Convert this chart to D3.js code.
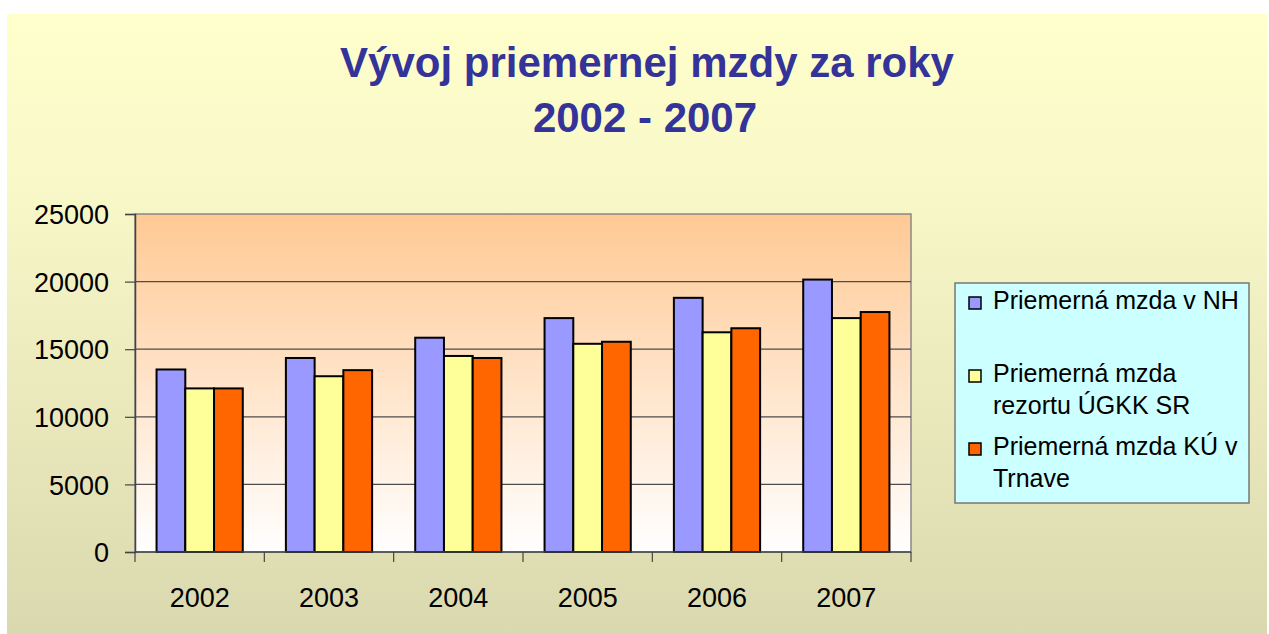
<!DOCTYPE html>
<html>
<head>
<meta charset="utf-8" />
<title>Vývoj priemernej mzdy za roky 2002 - 2007</title>
<style>
  body { margin: 0; background: #ffffff; }
  svg { display: block; }
  text { font-family: "Liberation Sans", Arial, sans-serif; }
  .title { fill: #333399; font-weight: bold; font-size: 42px; text-anchor: middle; }
  .tick-label { font-size: 27px; fill: #000; }
  .legend-text { font-size: 25px; fill: #000; }
</style>
<script src="https://cdnjs.cloudflare.com/ajax/libs/d3/7.8.5/d3.min.js"></script>
</head>
<body>
<div id="chart"></div>
<script>
// data
var years = ['2002', '2003', '2004', '2005', '2006', '2007'];
var mzdaNH = [13500, 14350, 15850, 17300, 18800, 20150];
var mzdaUGKK = [12100, 13000, 14500, 15400, 16250, 17300];
var mzdaKU = [12100, 13450, 14350, 15550, 16550, 17750];
var seriesNames = ['Priemerná mzda v NH', 'Priemerná mzda rezortu ÚGKK SR', 'Priemerná mzda KÚ v Trnave'];
var seriesColors = ['#9999FF', '#FFFF99', '#FF6600'];
var yTicks = [0, 5000, 10000, 15000, 20000, 25000];

var w = 1269, h = 634;
var plot = { left: 135, right: 911, top: 214, bottom: 552 };

var svg = d3.select('#chart').append('svg')
  .attr('width', w)
  .attr('height', h);

var defs = svg.append('defs');

var bgGrad = defs.append('linearGradient')
  .attr('id', 'bgGrad').attr('x1', 0).attr('y1', 0).attr('x2', 0).attr('y2', 1);
bgGrad.append('stop').attr('offset', '0%').attr('stop-color', '#FFFFCC');
bgGrad.append('stop').attr('offset', '30%').attr('stop-color', '#F8F7C8');
bgGrad.append('stop').attr('offset', '100%').attr('stop-color', '#DAD8AE');

var plotGrad = defs.append('linearGradient')
  .attr('id', 'plotGrad').attr('x1', 0).attr('y1', 0).attr('x2', 0).attr('y2', 1);
plotGrad.append('stop').attr('offset', '0%').attr('stop-color', '#FFC994');
plotGrad.append('stop').attr('offset', '100%').attr('stop-color', '#FFFFFF');

// slide background
svg.append('rect')
  .attr('x', 7).attr('y', 14)
  .attr('width', w - 9).attr('height', h - 14)
  .attr('fill', 'url(#bgGrad)');

// title
svg.append('text').attr('class', 'title')
  .attr('x', 647).attr('y', 77)
  .text('Vývoj priemernej mzdy za roky');
svg.append('text').attr('class', 'title')
  .attr('x', 645).attr('y', 132)
  .text('2002 - 2007');

// scales
var x0 = d3.scaleBand()
  .domain(years)
  .range([plot.left, plot.right])
  .paddingInner(0).paddingOuter(0);

var x1 = d3.scaleBand()
  .domain([0, 1, 2])
  .range([0, x0.bandwidth()])
  .paddingInner(0).paddingOuter(0.75);

var y = d3.scaleLinear()
  .domain([0, 25000])
  .range([plot.bottom, plot.top]);

// plot area
svg.append('rect')
  .attr('x', plot.left).attr('y', plot.top)
  .attr('width', plot.right - plot.left)
  .attr('height', plot.bottom - plot.top)
  .attr('fill', 'url(#plotGrad)')
  .attr('stroke', '#888888')
  .attr('stroke-width', 1.5);

// gridlines
svg.append('g')
  .selectAll('line')
  .data(yTicks.filter(function (d) { return d > 0 && d < 25000; }))
  .enter().append('line')
  .attr('x1', plot.left).attr('x2', plot.right)
  .attr('y1', function (d) { return y(d); })
  .attr('y2', function (d) { return y(d); })
  .attr('stroke', '#4d4d4d')
  .attr('stroke-width', 1.3);

// bars
var table = years.map(function (yr, i) {
  return { year: yr, values: [mzdaNH[i], mzdaUGKK[i], mzdaKU[i]] };
});

var groups = svg.append('g').selectAll('g')
  .data(table)
  .enter().append('g')
  .attr('transform', function (d) { return 'translate(' + x0(d.year) + ',0)'; });

groups.selectAll('rect')
  .data(function (d) { return d.values.map(function (v, k) { return { k: k, v: v }; }); })
  .enter().append('rect')
  .attr('x', function (d) { return x1(d.k); })
  .attr('width', x1.bandwidth())
  .attr('y', function (d) { return y(d.v); })
  .attr('height', function (d) { return y(0) - y(d.v); })
  .attr('fill', function (d) { return seriesColors[d.k]; })
  .attr('stroke', '#000000')
  .attr('stroke-width', 2);

// y axis
var yAxis = svg.append('g')
  .attr('transform', 'translate(' + plot.left + ',0)')
  .call(d3.axisLeft(y).tickValues(yTicks).tickSize(10).tickPadding(16).tickFormat(d3.format('d')));
yAxis.select('.domain').attr('stroke', '#444444').attr('stroke-width', 1.5);
yAxis.selectAll('.tick line').attr('stroke', '#444444').attr('stroke-width', 1.2);
yAxis.selectAll('.tick text').attr('class', 'tick-label')
  .style('font-family', '"Liberation Sans", Arial, sans-serif')
  .attr('dy', '0.36em');

// x axis: ticks at category boundaries
var xAxis = svg.append('g')
  .attr('transform', 'translate(0,' + plot.bottom + ')');
xAxis.append('line')
  .attr('x1', plot.left).attr('x2', plot.right)
  .attr('stroke', '#444444').attr('stroke-width', 1.5);
var bounds = years.map(function (yr) { return x0(yr); }).concat([plot.right]);
xAxis.selectAll('line.tk')
  .data(bounds)
  .enter().append('line')
  .attr('class', 'tk')
  .attr('x1', function (d) { return d; }).attr('x2', function (d) { return d; })
  .attr('y1', 0).attr('y2', 10)
  .attr('stroke', '#444444').attr('stroke-width', 1.2);
xAxis.selectAll('text')
  .data(years)
  .enter().append('text')
  .attr('class', 'tick-label')
  .attr('text-anchor', 'middle')
  .attr('x', function (d) { return x0(d) + x0.bandwidth() / 2; })
  .attr('y', 55)
  .text(function (d) { return d; });

// legend
var legend = svg.append('g').attr('id', 'legend');
legend.append('rect')
  .attr('x', 955).attr('y', 283)
  .attr('width', 294).attr('height', 220)
  .attr('fill', '#CCFFFF')
  .attr('stroke', '#777777')
  .attr('stroke-width', 1.5);

var legendLines = [
  ['Priemerná mzda v NH'],
  ['Priemerná mzda', 'rezortu ÚGKK SR'],
  ['Priemerná mzda KÚ v', 'Trnave']
];
var legendBase = [309, 382, 455];

legendLines.forEach(function (lines, k) {
  legend.append('rect')
    .attr('x', 969).attr('y', legendBase[k] - 12)
    .attr('width', 12).attr('height', 12)
    .attr('fill', seriesColors[k])
    .attr('stroke', '#000000')
    .attr('stroke-width', 1.5);
  lines.forEach(function (t, j) {
    legend.append('text')
      .attr('class', 'legend-text')
      .attr('x', 993)
      .attr('y', legendBase[k] + j * 32)
      .text(t);
  });
});
</script>
</body>
</html>
